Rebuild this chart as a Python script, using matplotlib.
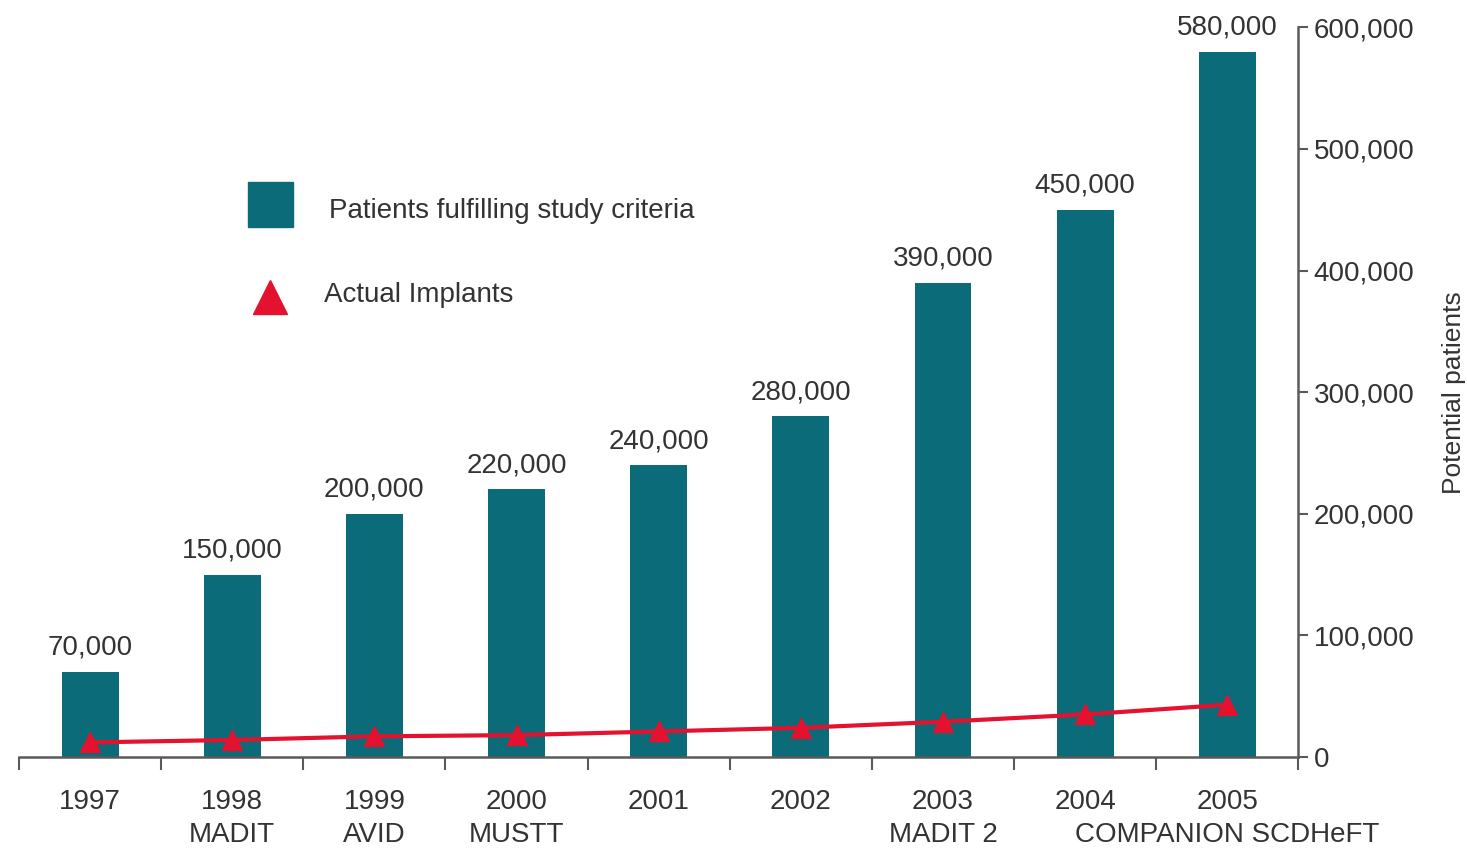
import numpy as np
import matplotlib
matplotlib.use("Agg")
import matplotlib.pyplot as plt
from matplotlib.patches import Rectangle
from matplotlib.lines import Line2D

plt.rcParams['font.family'] = ['Liberation Sans', 'DejaVu Sans']

# potential ICD patients per year and the trial that widened the criteria
years = ['1997', '1998', '1999', '2000', '2001', '2002', '2003', '2004', '2005']
trials = ['', 'MADIT', 'AVID', 'MUSTT', '', '', 'MADIT 2', '', 'COMPANION SCDHeFT']
eligible = [70000, 150000, 200000, 220000, 240000, 280000, 390000, 450000, 580000]
implants = [12000, 14000, 17000, 18000, 21000, 24000, 29000, 35000, 43000]
yticks = [0, 100000, 200000, 300000, 400000, 500000, 600000]

teal = '#0b6b78'
red = '#e3122f'
axis_col = '#5a5a5a'
text_col = '#333333'

fig = plt.figure(figsize=(14.67, 8.52), dpi=100)
ax = fig.add_axes([0.013, 0.1115, 0.872, 0.8565])

x = np.arange(len(years))
ax.bar(x, eligible, width=0.4, color=teal, zorder=2)
ax.plot(x, implants, color=red, lw=3, marker='^', markersize=15, zorder=3)

for xi, v in zip(x, eligible):
    ax.text(xi, v + 9000, f'{v:,}', ha='center', va='bottom',
            fontsize=20, color=text_col)

ax.set_xlim(-0.5, len(years) - 0.5)
ax.set_ylim(0, 600000)

# right-hand value axis
ax.yaxis.tick_right()
ax.yaxis.set_label_position('right')
ax.set_yticks(yticks)
ax.set_yticklabels([f'{t:,}' for t in yticks])
ax.tick_params(axis='y', direction='out', length=7, width=1.5, color=axis_col,
               labelsize=20, labelcolor=text_col, pad=4)
ax.set_ylabel('Potential patients', fontsize=19, color=text_col, labelpad=20)

# year labels at bar centres, tick marks between bars
ax.set_xticks(x)
ax.set_xticklabels(years)
ax.set_xticks(np.arange(-0.5, len(years), 1.0), minor=True)
ax.tick_params(axis='x', which='major', length=0, labelsize=20,
               labelcolor=text_col, pad=23)
ax.tick_params(axis='x', which='minor', direction='out', length=9, width=1.5,
               color=axis_col)

# trial names on a second row under the years
row = ax.get_xaxis_transform()
for xi, t in zip(x, trials):
    if t:
        ax.text(xi, -0.107, t, transform=row, ha='center', va='center',
                fontsize=20, color=text_col)

for side in ['left', 'top']:
    ax.spines[side].set_visible(False)
for side in ['right', 'bottom']:
    ax.spines[side].set_color(axis_col)
    ax.spines[side].set_linewidth(1.8)

# hand-placed key
ax.add_patch(Rectangle((0.179, 0.726), 0.035, 0.062, transform=ax.transAxes,
                       color=teal, clip_on=False))
ax.text(0.242, 0.748, 'Patients fulfilling study criteria', transform=ax.transAxes,
        fontsize=20, color=text_col, va='center')
ax.add_line(Line2D([0.1965], [0.630], transform=ax.transAxes, marker='^',
                   markersize=24, color=red, ls='none'))
ax.text(0.238, 0.633, 'Actual Implants', transform=ax.transAxes,
        fontsize=20, color=text_col, va='center')

fig.savefig('out.png', dpi=100)
